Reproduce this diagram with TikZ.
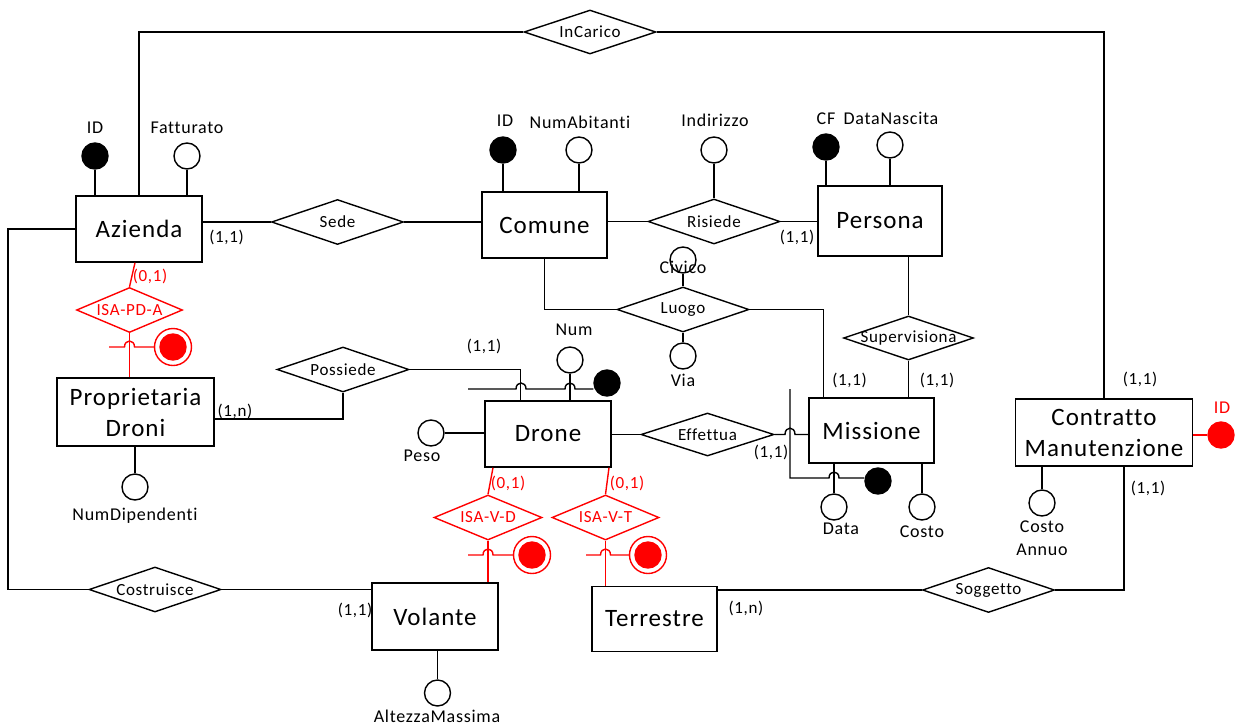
\documentclass[tikz,border=0pt]{standalone}
\usepackage{fontspec}
\setmainfont{Carlito}[LetterSpace=4,Ligatures=NoCommon]
\usetikzlibrary{shapes.geometric,calc}
\definecolor{isared}{RGB}{255,0,0}
\begin{document}
\begin{tikzpicture}[x=1pt,y=-1pt,line width=1.4pt,
  font=\fontsize{18}{21}\selectfont,
  entity/.style={draw,rectangle,inner sep=0pt,align=center,font=\fontsize{25}{31}\selectfont},
  rel/.style={draw,diamond,inner sep=0pt,minimum width=132pt,minimum height=45pt},
  every label/.style={font=\fontsize{17}{20}\selectfont},
  attr/.style={draw,circle,fill=white,inner sep=0pt,minimum size=26pt},
  keyattr/.style={attr,fill=black},
  txt/.style={inner sep=0pt},
  card/.style={inner sep=0pt,font=\fontsize{17}{20}\selectfont},
  isarel/.style={rel,draw=isared,minimum width=107pt},
  isadot/.style={circle,draw=isared,fill=isared,inner sep=0pt,minimum size=26pt},
  isaring/.style={circle,draw=isared,inner sep=0pt,minimum size=37pt}]
\useasboundingbox (0,0) rectangle (1239,726);

% entities
\node[entity,minimum width=126pt,minimum height=66pt] (az) at (139,229) {Azienda};
\node[entity,minimum width=125pt,minimum height=66pt] (com) at (544.5,225) {Comune};
\node[entity,minimum width=124pt,minimum height=70pt] (per) at (880,221) {Persona};
\node[entity,minimum width=157pt,minimum height=68pt] (pro) at (135.5,412) {Proprietaria\\Droni};
\node[entity,minimum width=126pt,minimum height=66pt] (dro) at (548,434) {Drone};
\node[entity,minimum width=125pt,minimum height=65pt] (mis) at (871.5,430.5) {Missione};
\node[entity,minimum width=177pt,minimum height=67pt] (con) at (1104,432.5) {Contratto\\Manutenzione};
\node[entity,minimum width=126pt,minimum height=67pt] (vol) at (435,616.5) {Volante};
\node[entity,minimum width=125pt,minimum height=65pt] (ter) at (654.5,619) {Terrestre};

% relationships
\node[rel,minimum height=44pt,label={center:InCarico}] (inc) at (590,32) {};
\node[rel,label={center:Sede}] (sede) at (337.5,222) {};
\node[rel,label={center:Risiede}] (ris) at (714,221.5) {};
\node[rel,label={center:Luogo}] (luo) at (683,309.5) {};
\node[rel,minimum width=130pt,minimum height=44pt,label={center:Supervisiona}] (sup) at (908.5,338) {};
\node[rel,label={center:Possiede}] (pos) at (343,369.5) {};
\node[rel,minimum width=133pt,minimum height=43pt,label={center:Effettua}] (eff) at (707.5,434.5) {};
\node[rel,label={center:Costruisce}] (cos) at (155,589.5) {};
\node[rel,label={center:Soggetto}] (sog) at (988.5,590) {};

% generalisations
\node[isarel,minimum width=106pt,label={[text=isared]center:ISA-PD-A}] (isapd) at (129.5,310) {};
\node[isarel,minimum width=108pt,label={[text=isared]center:ISA-V-D}] (isavd) at (488,517.5) {};
\node[isarel,minimum width=107pt,label={[text=isared]center:ISA-V-T}] (isavt) at (605.5,517.5) {};
\node[isadot] (pdc) at (173,347) {};
\node[isaring] (pdring) at (173,347) {};
\node[isadot] (vdc) at (532,555) {};
\node[isaring] (vdring) at (532,555) {};
\node[isadot] (vtc) at (648,555) {};
\node[isaring] (vtring) at (648,555) {};

% attributes
\node[keyattr] (azid) at (95,156) {};
\node[txt] (azidt) at (95,128) {ID};
\node[attr] (azfat) at (187,156) {};
\node[txt] (azfatt) at (187,128) {Fatturato};
\node[keyattr] (comid) at (503,150) {};
\node[txt] (comidt) at (505,121) {ID};
\node[attr] (comnum) at (579,150) {};
\node[txt] (comnumt) at (580,122) {NumAbitanti};
\node[attr] (risind) at (714,150) {};
\node[txt] (risindt) at (715,120) {Indirizzo};
\node[keyattr] (percf) at (826,147) {};
\node[txt] (percft) at (826,119) {CF};
\node[attr] (perdn) at (890,145) {};
\node[txt] (perdnt) at (891,118) {DataNascita};
\node[attr] (luociv) at (683,260) {};
\node[txt] (luocivt) at (683,267) {Civico};
\node[attr] (luovia) at (683,356) {};
\node[txt] (luoviat) at (683,380) {Via};
\node[attr] (dronum) at (570,360) {};
\node[txt] (dronumt) at (574,330) {Num};
\node[keyattr] (drokey) at (607,383) {};
\node[attr] (dropeso) at (431,433) {};
\node[txt] (dropesot) at (422,456) {Peso};
\node[attr] (pround) at (135,487) {};
\node[txt] (proundt) at (135,516) {NumDipendenti};
\node[attr] (misdata) at (834,507) {};
\node[txt] (misdatat) at (841,529) {Data};
\node[attr] (miscosto) at (922,507) {};
\node[txt] (miscostot) at (922,532) {Costo};
\node[keyattr] (miskey) at (878,481) {};
\node[attr] (conca) at (1042,503) {};
\node[txt,align=center,font=\fontsize{18}{23.5}\selectfont] (concat) at (1042,538) {Costo\\Annuo};
\node[isadot] (conid) at (1221,435) {};
\node[txt,text=isared] (conidt) at (1222,408) {ID};
\node[attr] (volalt) at (437.5,693) {};
\node[txt] (volaltt) at (437,716) {AltezzaMassima};

% cardinalities
\node[card] (c1) at (226.5,237) {(1,1)};
\node[card] (c2) at (797,237) {(1,1)};
\node[card,text=isared] (c3) at (150,276) {(0,1)};
\node[card] (c4) at (484,346) {(1,1)};
\node[card] (c5) at (235,411) {(1,n)};
\node[card] (c6) at (849.5,380) {(1,1)};
\node[card] (c7) at (937,380) {(1,1)};
\node[card] (c8) at (771,452) {(1,1)};
\node[card] (c9) at (1140,379) {(1,1)};
\node[card] (c10) at (1148,488) {(1,1)};
\node[card,text=isared] (c11) at (508,483) {(0,1)};
\node[card,text=isared] (c12) at (627,483) {(0,1)};
\node[card] (c13) at (355,610) {(1,1)};
\node[card] (c14) at (746,608) {(1,n)};

% attribute links
\draw (azid) -- (azid |- az.north);
\draw (azfat) -- (azfat |- az.north);
\draw (comid) -- (comid |- com.north);
\draw (comnum) -- (comnum |- com.north);
\draw (risind) -- (ris.north);
\draw (percf) -- (percf |- per.north);
\draw (perdn) -- (perdn |- per.north);
\draw (luociv) -- (luo.north);
\draw (luo.south) -- (luovia);
\draw (dropeso) -- (dro.west |- dropeso);
\draw (pround) -- (pround |- pro.south);
\draw (misdata) -- (misdata |- mis.south);
\draw (miscosto) -- (miscosto |- mis.south);
\draw (conca) -- (conca |- con.south);
\draw (volalt) -- (volalt |- vol.south);
\draw[isared] (con.east |- conid) -- (conid);
\draw (dronum) -- (dronum |- dro.north);

% relationship links
\draw (inc.west) -| (az.north);
\draw (inc.east) -| (con.north);
\draw (az.east |- sede) -- (sede.west);
\draw (sede.east) -- (com.west |- sede);
\draw (com.east |- ris) -- (ris.west);
\draw (ris.east) -- (per.west |- ris);
\draw (com.south) |- (luo.west);
\draw (luo.east) -| ($(mis.north west)+(15,0)$);
\draw (per.south -| sup) -- (sup.north);
\draw (sup.south) -- (mis.north -| sup);
\draw (pos.east) -| ($(dro.north west)+(36,0)$);
\draw (pos.south) |- ($(pro.east)+(0,7)$);
\draw (dro.east |- eff) -- (eff.west);
\draw (eff.east) -- (785,434.5) .. controls (785,426) and (795,426) .. (795,434.5) -- (mis.west |- eff);
\draw (az.west) -- (8,229) |- (cos.west);
\draw (cos.east) -- (vol.west |- cos);
\draw (ter.east |- sog) -- (sog.west);
\draw (sog.east) -| ($(con.south)+(20,0)$);

% external identifiers
\coordinate (droid) at (468,389);
\draw (droid) -- (516,389) .. controls (516,381) and (526,381) .. (526,389)
  -- (565,389) .. controls (565,381) and (575,381) .. (575,389) -- (drokey.west |- 0,389);
\coordinate (misid) at (790,389);
\draw (misid) -- (790,478) -- (829,478) .. controls (829,470) and (839,470) .. (839,478)
  -- (miskey.west |- 0,478);

% generalisation links
\draw[isared] ($(az.south)+(-4,0)$) -- (isapd.north);
\draw[isared] (isapd.south) -- (isapd.south |- pro.north);
\coordinate (pdfree) at (109,347);
\draw[isared] (pdfree) -- (124.5,347) .. controls (124.5,339) and (134.5,339) .. (134.5,347) -- (pdring);
\draw[isared] (dro.south -| 493,0) -- (isavd.north);
\draw[isared] (isavd.south) -- (isavd.south |- vol.north);
\coordinate (vdfree) at (468,555);
\draw[isared] (vdfree) -- (483,555) .. controls (483,547) and (493,547) .. (493,555) -- (vdring);
\draw[isared] (dro.south -| 609,0) -- (isavt.north);
\draw[isared] (isavt.south) -- (isavt.south |- ter.north);
\coordinate (vtfree) at (586,555);
\draw[isared] (vtfree) -- (600.5,555) .. controls (600.5,547) and (610.5,547) .. (610.5,555) -- (vtring);
\end{tikzpicture}
\end{document}
